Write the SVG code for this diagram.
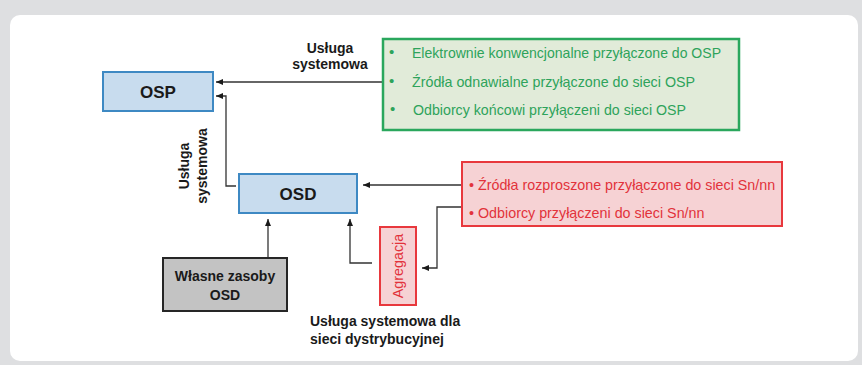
<svg xmlns="http://www.w3.org/2000/svg" width="862" height="365" viewBox="0 0 862 365">
<defs>
<marker id="ah" markerWidth="8" markerHeight="8" refX="7" refY="4" orient="auto" markerUnits="userSpaceOnUse">
<path d="M0,1 L7,4 L0,7 Z" fill="#1a1a1a"/>
</marker>
<style>
text{font-family:"Liberation Sans",Arial,sans-serif}
.b{font-weight:bold;fill:#1a1a1a;font-size:14px}
.big{font-weight:bold;fill:#1a1a1a;font-size:17px}
.blue{fill:#c8dcee;stroke:#3e89c3;stroke-width:2}
.g{fill:#2ea35b;font-size:15px}
.r{fill:#e2323b;font-size:14.3px}
.c{fill:none;stroke:#333;stroke-width:1.3;marker-end:url(#ah)}
</style>
</defs>
<rect x="0" y="0" width="862" height="365" fill="#dedfe1"/>
<rect x="10" y="15" width="848" height="346" rx="10" fill="#ffffff"/>

<g id="connectors">
<path class="c" d="M383,82 L216,82"/>
<path class="c" d="M236,186 L226,186 L226,96 L216,96"/>
<path class="c" d="M462,185 L363,185"/>
<path class="c" d="M462,207 L437,207 L437,268 L422,268"/>
<path class="c" d="M372,263 L350,263 L350,219"/>
<path class="c" d="M268,258 L268,219"/>
</g>

<g id="label-top">
<text class="b" x="330" y="53" text-anchor="middle">Usługa</text>
<text class="b" x="330" y="69" text-anchor="middle">systemowa</text>
</g>
<g id="label-left">
<text class="b" transform="translate(189,166) rotate(-90)" text-anchor="middle">Usługa</text>
<text class="b" transform="translate(207,166) rotate(-90)" text-anchor="middle">systemowa</text>
</g>
<g id="label-bottom">
<text class="b" x="310" y="326">Usługa systemowa dla</text>
<text class="b" x="310" y="344">sieci dystrybucyjnej</text>
</g>

<g id="osp">
<rect class="blue" x="103" y="72" width="110" height="39"/>
<text class="big" x="158" y="97.5" text-anchor="middle">OSP</text>
</g>

<g id="osd">
<rect class="blue" x="239" y="174" width="118" height="39"/>
<text class="big" x="298" y="200" text-anchor="middle">OSD</text>
</g>

<g id="green">
<rect x="383" y="39" width="356" height="91" fill="#e1ebd9" stroke="#2aa75d" stroke-width="2.5"/>
<text class="g" x="389" y="57">•</text>
<text class="g" x="412" y="57.5" textLength="309" lengthAdjust="spacingAndGlyphs">Elektrownie konwencjonalne przyłączone do OSP</text>
<text class="g" x="389" y="86">•</text>
<text class="g" x="412" y="87" textLength="283" lengthAdjust="spacingAndGlyphs">Źródła odnawialne przyłączone do sieci OSP</text>
<text class="g" x="390" y="114">•</text>
<text class="g" x="413" y="115" textLength="273" lengthAdjust="spacingAndGlyphs">Odbiorcy końcowi przyłączeni do sieci OSP</text>
</g>

<g id="red">
<rect x="462" y="162" width="320" height="64" fill="#f6d2d4" stroke="#e8383d" stroke-width="2"/>
<text class="r" x="469" y="190">• Źródła rozproszone przyłączone do sieci Sn/nn</text>
<text class="r" x="469" y="218">• Odbiorcy przyłączeni do sieci Sn/nn</text>
</g>

<g id="agregacja">
<rect x="380" y="227" width="36" height="78" fill="#f6d2d4" stroke="#e8383d" stroke-width="2"/>
<text class="r" transform="translate(403,266) rotate(-90)" text-anchor="middle">Agregacja</text>
</g>

<g id="wlasne">
<rect x="163" y="258" width="124" height="53" fill="#c3c3c3" stroke="#262626" stroke-width="2"/>
<text class="b" x="225" y="281" text-anchor="middle">Własne zasoby</text>
<text class="b" x="225" y="300" text-anchor="middle">OSD</text>
</g>
</svg>
